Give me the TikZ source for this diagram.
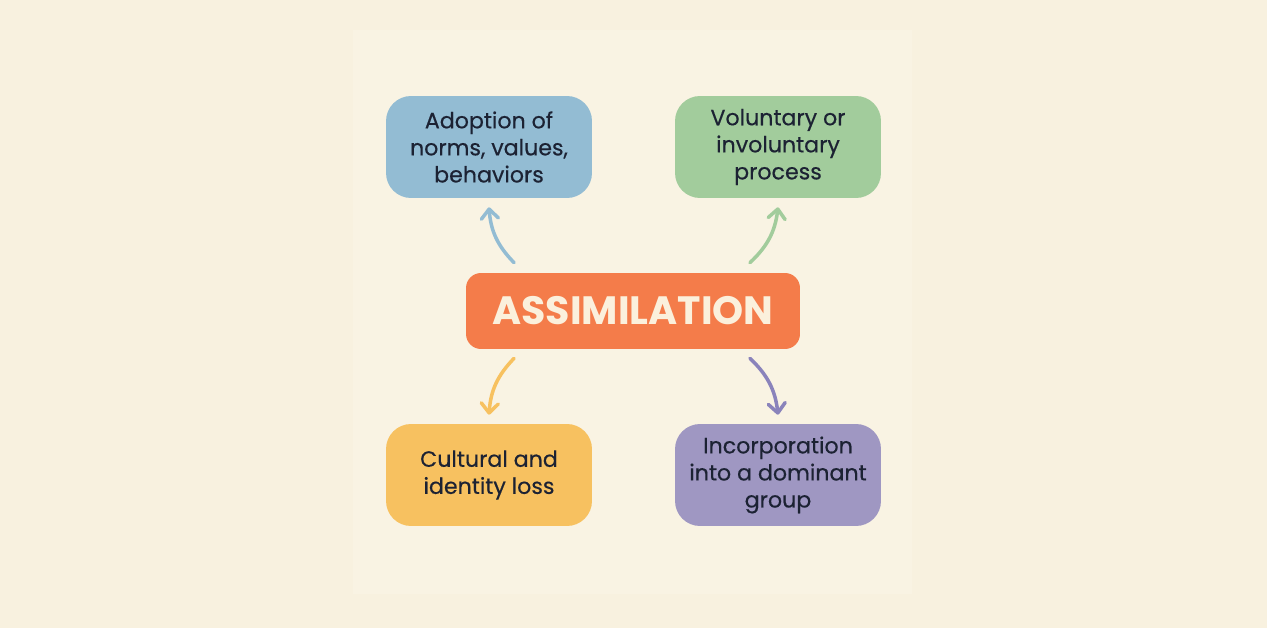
\documentclass[tikz,border=0pt]{standalone}
\usepackage{fontspec}
\setmainfont{Poppins}
\usepackage{xcolor}
\usetikzlibrary{arrows.meta, positioning}

\definecolor{pagebg}{HTML}{F8F1DF}
\definecolor{panelbg}{HTML}{F9F3E3}
\definecolor{inkdark}{HTML}{1C2233}
\definecolor{coreorange}{HTML}{F47C4A}
\definecolor{corecream}{HTML}{FBF0DC}
\definecolor{skyblue}{HTML}{93BCD3}
\definecolor{sagegreen}{HTML}{A2CC9C}
\definecolor{sunyellow}{HTML}{F7C160}
\definecolor{lavender}{HTML}{9F97C2}
\definecolor{lavenderdark}{HTML}{8A83BB}

\begin{document}
\begin{tikzpicture}[
    x=0.02cm, y=-0.02cm,
    topic/.style={rectangle, rounded corners=0.5cm, minimum width=4.12cm, minimum height=2.04cm, align=center, text=inkdark, font=\fontsize{12.6}{15.4}\selectfont\addfontfeatures{FakeBold=0.4}},
    core/.style={rectangle, rounded corners=0.3cm, fill=coreorange, minimum width=6.68cm, minimum height=1.52cm, align=center, text=corecream, font=\fontsize{22.5}{26}\selectfont\bfseries},
    link/.style={-{Straight Barb[length=1.9mm, width=3.4mm, round]}, line width=2pt, line cap=round},
]

% background
\fill[pagebg] (0,0) rectangle (1267,628);
\fill[panelbg] (353,30) rectangle (912,594);
\useasboundingbox (0,0) rectangle (1267,628);

\node[core] (assim) at (633,311) {ASSIMILATION};

\node[topic, fill=skyblue] (adopt) at (489,147) {Adoption of\\norms, values,\\behaviors};
\node[topic, fill=sagegreen] (volun) at (778,147) {Voluntary or\\involuntary\\process};
\node[topic, fill=sunyellow] (loss) at (489,475) {Cultural and\\identity loss};
\node[topic, fill=lavender] (incorp) at (778,475) {Incorporation\\into a dominant\\group};

\draw[link, skyblue] ([xshift=-2.38cm, yshift=0.2cm]assim.north) to[bend left=20] ([yshift=-0.18cm]adopt.south);
\draw[link, sagegreen] ([xshift=2.34cm, yshift=0.2cm]assim.north) to[bend right=20] ([yshift=-0.18cm]volun.south);
\draw[link, sunyellow] ([xshift=-2.38cm, yshift=-0.18cm]assim.south) to[bend right=20] ([yshift=0.18cm]loss.north);
\draw[link, lavenderdark] ([xshift=2.34cm, yshift=-0.18cm]assim.south) to[bend left=20] ([yshift=0.18cm]incorp.north);

\end{tikzpicture}
\end{document}
